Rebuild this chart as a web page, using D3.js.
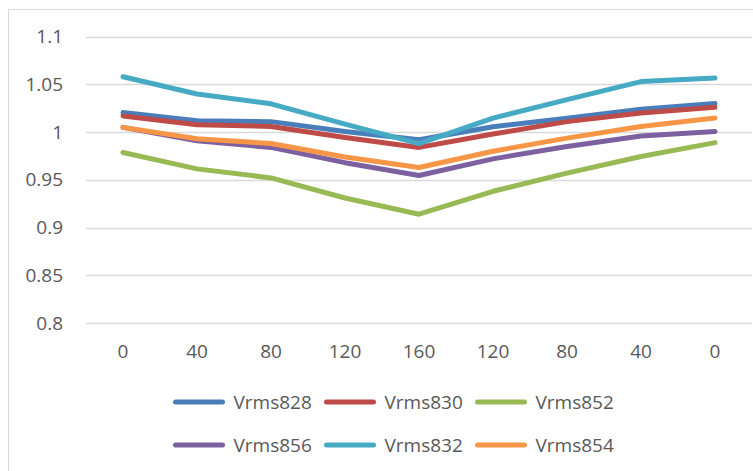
<!DOCTYPE html>
<html>
<head>
<meta charset="utf-8">
<script src="https://cdn.jsdelivr.net/npm/d3@7"></script>
<style>
  body { margin: 0; background: #fff; }
  text { font-family: "Open Sans", sans-serif; fill: #595959; }
</style>
</head>
<body>
<div class="chart-container"></div>
<script>
// categories along the x axis (distance out and back)
const categories = ['0', '40', '80', '120', '160', '120', '80', '40', '0']

const yTicks = [0.8, 0.85, 0.9, 0.95, 1, 1.05, 1.1]

const seriesNames = ['Vrms828', 'Vrms830', 'Vrms852', 'Vrms856', 'Vrms832', 'Vrms854']
const seriesColors = ['#4a7ebb', '#be4b48', '#98b954', '#7d60a0', '#46aac5', '#f79646']

const vrms828 = [1.0205, 1.012, 1.011, 1.0006, 0.992, 1.0056, 1.0145, 1.024, 1.030]
const vrms830 = [1.017, 1.0077, 1.006, 0.9944, 0.984, 0.998, 1.011, 1.020, 1.026]
const vrms852 = [0.9786, 0.9615, 0.952, 0.931, 0.914, 0.938, 0.957, 0.9745, 0.989]
const vrms856 = [1.005, 0.991, 0.984, 0.968, 0.9545, 0.972, 0.985, 0.996, 1.0006]
const vrms832 = [1.058, 1.040, 1.0297, 1.0084, 0.988, 1.0147, 1.034, 1.053, 1.0566]
const vrms854 = [1.005, 0.993, 0.988, 0.974, 0.963, 0.980, 0.9937, 1.006, 1.0147]

const seriesValues = [vrms828, vrms830, vrms852, vrms856, vrms832, vrms854]

let dims = {
    width: 753,
    height: 471,
    plot: { left: 86, right: 752, top: 36.7, bottom: 323 }
}

const svg = d3.select('.chart-container')
    .append('svg')
    .attr('width', dims.width)
    .attr('height', dims.height)

// chart frame (right and bottom edges run off the picture)
svg.append('rect')
    .attr('x', 8.5)
    .attr('y', 9.5)
    .attr('width', 760)
    .attr('height', 480)
    .attr('fill', 'none')
    .attr('stroke', '#d9d9d9')

const xScale = d3.scaleBand()
    .domain(d3.range(categories.length))
    .range([dims.plot.left, dims.plot.right])

const yScale = d3.scaleLinear()
    .domain([0.8, 1.1])
    .range([dims.plot.bottom, dims.plot.top])

// gridlines
svg.append('g')
    .selectAll('line')
    .data(yTicks)
    .join('line')
    .attr('x1', dims.plot.left)
    .attr('x2', dims.plot.right)
    .attr('y1', d => Math.round(yScale(d)) + 0.5)
    .attr('y2', d => Math.round(yScale(d)) + 0.5)
    .attr('stroke', '#d9d9d9')
    .attr('stroke-width', 1.3)

// y axis labels
const yAxis = d3.axisLeft(yScale).tickValues(yTicks).tickSize(0).tickPadding(23).tickFormat(d3.format(''))
svg.append('g')
    .attr('transform', `translate(${dims.plot.left},0)`)
    .call(yAxis)
    .call(g => g.select('.domain').remove())
    .selectAll('text')
    .attr('font-size', '19px')
    .attr('font-family', null)
    .attr('fill', '#595959')

// x axis labels
const xAxis = d3.axisBottom(xScale).tickSize(0).tickPadding(0).tickFormat(i => categories[i])
svg.append('g')
    .attr('transform', `translate(0,${dims.plot.bottom + 21})`)
    .call(xAxis)
    .call(g => g.select('.domain').remove())
    .selectAll('text')
    .attr('font-size', '19px')
    .attr('font-family', null)
    .attr('fill', '#595959')

// lines, drawn in series order so later ones sit on top
const line = d3.line()
    .x((d, i) => xScale(i) + xScale.bandwidth() / 2)
    .y(d => yScale(d))

svg.append('g')
    .selectAll('path')
    .data(seriesValues)
    .join('path')
    .attr('d', d => line(d))
    .attr('fill', 'none')
    .attr('stroke', (d, i) => seriesColors[i])
    .attr('stroke-width', 5)
    .attr('stroke-linecap', 'round')
    .attr('stroke-linejoin', 'round')

// legend
const legendItems = svg.append('g')
    .selectAll('g')
    .data(seriesNames)
    .join('g')
    .attr('transform', (d, i) => `translate(${175.5 + (i % 3) * 151},${i < 3 ? 402 : 445})`)

legendItems.append('line')
    .attr('x1', 0)
    .attr('x2', 47)
    .attr('stroke', (d, i) => seriesColors[i])
    .attr('stroke-width', 5)
    .attr('stroke-linecap', 'round')

legendItems.append('text')
    .attr('x', 58)
    .attr('dy', '0.36em')
    .attr('font-size', '19px')
    .text(d => d)
</script>
</body>
</html>
